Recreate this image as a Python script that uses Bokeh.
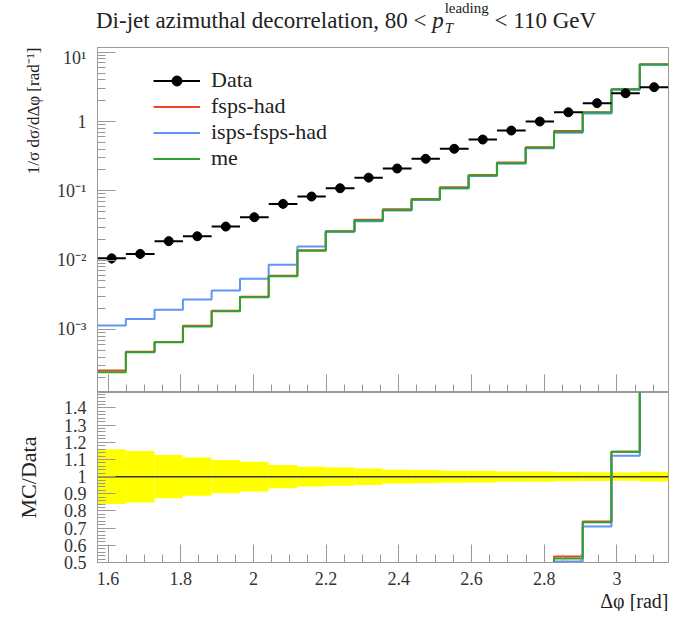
from bokeh.plotting import figure
from bokeh.models import (Range1d, LogTicker, SingleIntervalTicker, CustomJSTickFormatter,
                          Legend, LegendItem, Div, Title)
from bokeh.layouts import column
from bokeh.embed import file_html
from bokeh.resources import INLINE

# ---------------- data ----------------
bin_edges = [1.571, 1.649, 1.728, 1.806, 1.885, 1.963, 2.042, 2.121, 2.199, 2.278, 2.356,
             2.435, 2.513, 2.592, 2.670, 2.749, 2.827, 2.906, 2.985, 3.063, 3.142]

data_vals = [0.0106, 0.0123, 0.0188, 0.0221, 0.0305, 0.0416, 0.0648, 0.0828, 0.109, 0.155,
             0.210, 0.290, 0.404, 0.550, 0.741, 1.00, 1.36, 1.84, 2.56, 3.13]
data_relerr = [0.16, 0.15, 0.126, 0.112, 0.097, 0.087, 0.068, 0.058, 0.053, 0.048,
               0.040, 0.039, 0.035, 0.034, 0.030, 0.030, 0.027, 0.026, 0.024, 0.028]

fsps_had = [2.55e-4, 4.75e-4, 6.6e-4, 1.13e-3, 1.86e-3, 2.95e-3, 5.95e-3, 0.0139, 0.0262, 0.0381,
            0.0542, 0.0765, 0.1125, 0.169, 0.256, 0.424, 0.728, 1.358, 2.93, 6.70]
isps_fsps_had = [1.14e-3, 1.42e-3, 1.92e-3, 2.70e-3, 3.64e-3, 5.37e-3, 8.55e-3, 0.0157, 0.0256, 0.0365,
                 0.0520, 0.0735, 0.108, 0.163, 0.247, 0.410, 0.688, 1.306, 2.87, 6.62]
me = [2.41e-4, 4.69e-4, 6.53e-4, 1.10e-3, 1.83e-3, 2.92e-3, 5.86e-3, 0.0137, 0.0258, 0.0373,
      0.0531, 0.0748, 0.110, 0.166, 0.251, 0.417, 0.711, 1.352, 2.93, 6.64]

y_tick_labels = {0: "1", 1: "10¹", -1: "10⁻¹", -2: "10⁻²", -3: "10⁻³", -4: "10⁻⁴"}

RED = "#ee4422"
BLUE = "#6194f7"
GREEN = "#2ea12e"
FRAME = "#999999"
FONT = "Liberation Serif"

lo = bin_edges[:-1]
hi = bin_edges[1:]
centers = [(a + b) / 2 for a, b in zip(lo, hi)]


def steps(vals):
    return list(vals) + [vals[-1]]


def style_axis(ax, size="18px"):
    ax.axis_line_color = FRAME
    ax.major_tick_line_color = FRAME
    ax.minor_tick_line_color = FRAME
    ax.major_tick_in = 18
    ax.major_tick_out = 0
    ax.minor_tick_in = 8
    ax.minor_tick_out = 0
    ax.major_label_text_font = FONT
    ax.major_label_text_font_size = size
    ax.major_label_text_color = "#333333"
    ax.axis_label_text_font = FONT
    ax.axis_label_text_font_style = "normal"
    ax.axis_label_text_color = "#222222"


# ---------------- title (inline flow, stacked script) ----------------
script_block = (
    '<span style="display:inline-flex; flex-direction:column; vertical-align:15px; '
    'font-size:15px; line-height:20px; margin-left:1px;">'
    '<span>leading</span><span style="font-style:italic;">T</span></span>'
)
title_html = (
    f'<div style="position:relative; width:673px; height:47px; font-family:\'{FONT}\'; color:#222;">'
    '<div style="position:absolute; left:96px; top:-2px; white-space:nowrap; '
    'font-size:23px; line-height:1;">'
    'Di-jet azimuthal decorrelation, 80&nbsp;&lt;&nbsp;<i>p</i>'
    + script_block +
    '&nbsp;&lt;&nbsp;110 GeV</div></div>'
)
title_div = Div(text=title_html, width=673, height=47, margin=(0, 0, 0, 0))

# ---------------- top panel ----------------
p1 = figure(frame_width=571, frame_height=345, title=None,
            x_range=Range1d(bin_edges[0], bin_edges[-1]),
            y_range=Range1d(1.23e-4, 11.7), y_axis_type="log",
            output_backend="svg", toolbar_location=None,
            min_border_left=97, min_border_right=5, min_border_top=0, min_border_bottom=0)
p1.xgrid.visible = False
p1.ygrid.visible = False
p1.outline_line_color = FRAME

style_axis(p1.xaxis[0])
p1.xaxis.ticker = SingleIntervalTicker(interval=0.2, num_minor_ticks=4)
p1.xaxis.major_label_text_font_size = "0px"
p1.xaxis.major_label_standoff = 0

style_axis(p1.yaxis[0])
p1.yaxis.ticker = LogTicker(mantissas=[1], num_minor_ticks=10, desired_num_ticks=6)
p1.yaxis.formatter = CustomJSTickFormatter(
    args=dict(labels={str(k): v for k, v in y_tick_labels.items()}),
    code="const e = Math.round(Math.log10(tick)); return labels[String(e)] || '';")
p1.yaxis.major_label_standoff = 11

ylab = Title(text="1/σ dσ/dΔφ [rad⁻¹]", align="right", text_font=FONT,
             text_font_size="17px", text_font_style="normal", text_color="#222222",
             standoff=24)
p1.add_layout(ylab, "left")

r_red = p1.step(bin_edges, steps(fsps_had), mode="after", line_color=RED, line_width=2)
r_blue = p1.step(bin_edges, steps(isps_fsps_had), mode="after", line_color=BLUE, line_width=2)
r_green = p1.step(bin_edges, steps(me), mode="after", line_color=GREEN, line_width=2)

r_hbar = p1.segment(x0=lo, x1=hi, y0=data_vals, y1=data_vals, line_color="black", line_width=2)
p1.segment(x0=centers, x1=centers,
           y0=[d * (1 - e) for d, e in zip(data_vals, data_relerr)],
           y1=[d * (1 + e) for d, e in zip(data_vals, data_relerr)],
           line_color="black", line_width=2)
r_pts = p1.scatter(centers, data_vals, size=9, color="black")

legend = Legend(items=[
    LegendItem(label="Data", renderers=[r_hbar, r_pts]),
    LegendItem(label="fsps-had", renderers=[r_red]),
    LegendItem(label="isps-fsps-had", renderers=[r_blue]),
    LegendItem(label="me", renderers=[r_green]),
], location=(56, 221), padding=0, margin=0, spacing=0, label_height=25, glyph_height=25,
    glyph_width=47, label_standoff=11, border_line_alpha=0, background_fill_alpha=0,
    label_text_font=FONT, label_text_font_size="22px", label_text_color="#222222")
p1.add_layout(legend)

# ---------------- ratio panel ----------------
p2 = figure(frame_width=571, frame_height=170, title=None,
            x_range=p1.x_range, y_range=Range1d(0.5, 1.49),
            output_backend="svg", toolbar_location=None,
            min_border_left=97, min_border_right=5, min_border_top=0, min_border_bottom=0)
p2.xgrid.visible = False
p2.ygrid.visible = False
p2.outline_line_color = FRAME

style_axis(p2.xaxis[0])
p2.xaxis.ticker = SingleIntervalTicker(interval=0.2, num_minor_ticks=4)
p2.xaxis.formatter = CustomJSTickFormatter(code="return String(Number(tick.toFixed(2)));")
p2.xaxis.major_label_standoff = 9

xlab = Title(text="Δφ [rad]", align="right", text_font=FONT, text_font_size="20px",
             text_font_style="normal", text_color="#222222", standoff=0)
p2.add_layout(xlab, "below")

style_axis(p2.yaxis[0], size="18px")
p2.yaxis.ticker = SingleIntervalTicker(interval=0.1, num_minor_ticks=5)
p2.yaxis.major_label_standoff = 11
p2.yaxis.axis_label = "MC/Data"
p2.yaxis.axis_label_text_font_size = "22px"
p2.yaxis.axis_label_standoff = 20

p2.quad(left=lo, right=hi,
        bottom=[1 - e for e in data_relerr], top=[1 + e for e in data_relerr],
        fill_color="#ffff00", line_color=None)
p2.step(bin_edges, steps([d / d for d in data_vals]), mode="after", line_color="#333333",
        line_width=1.5)
for vals, col in ((fsps_had, RED), (isps_fsps_had, BLUE), (me, GREEN)):
    ratio = [m / d for m, d in zip(vals, data_vals)]
    p2.step(bin_edges, steps(ratio), mode="after", line_color=col, line_width=2)

layout = column(title_div, p1, p2, spacing=0)
open("out.html", "w").write(file_html(layout, INLINE))
